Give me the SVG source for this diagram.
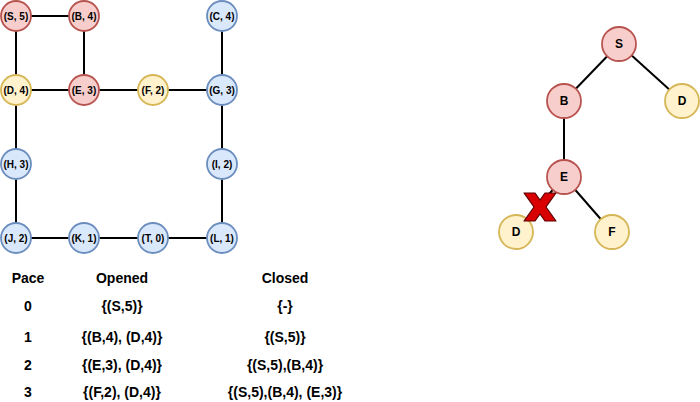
<svg xmlns="http://www.w3.org/2000/svg" width="700" height="402" viewBox="0 0 700 402">
<style>
.n circle{stroke-width:1.8}
.red circle{fill:#f8cecc;stroke:#b85450}
.yel circle{fill:#fff2cc;stroke:#d6b656}
.blu circle{fill:#dae8fc;stroke:#6c8ebf}
.n text{font-family:"Liberation Sans",Arial,sans-serif;font-weight:bold;font-size:10px;fill:#000;text-anchor:middle;dominant-baseline:central}
.t text{font-size:12px}
#edges line{stroke:#000;stroke-width:2}
.tbl text{font-family:"Liberation Sans",Arial,sans-serif;font-weight:bold;font-size:14px;fill:#000;text-anchor:middle;dominant-baseline:central}
</style>
<rect width="700" height="402" fill="#fff"/>
<g id="edges">
<line x1="16" y1="16" x2="84" y2="16"/>
<line x1="16" y1="16" x2="16" y2="90"/>
<line x1="84" y1="16" x2="84" y2="90"/>
<line x1="16" y1="90" x2="222" y2="90"/>
<line x1="222" y1="16" x2="222" y2="238"/>
<line x1="16" y1="90" x2="16" y2="238"/>
<line x1="16" y1="238" x2="222" y2="238"/>
<line x1="619" y1="44" x2="564" y2="101"/>
<line x1="619" y1="44" x2="682" y2="101"/>
<line x1="564" y1="101" x2="564" y2="177"/>
<line x1="564" y1="177" x2="516" y2="232"/>
<line x1="564" y1="177" x2="612" y2="232"/>
</g>
<g id="nS" class="n red"><circle cx="16" cy="16" r="15"/><text x="16" y="16">(S, 5)</text></g>
<g id="nB" class="n red"><circle cx="84" cy="16" r="15"/><text x="84" y="16">(B, 4)</text></g>
<g id="nC" class="n blu"><circle cx="222" cy="16" r="15"/><text x="222" y="16">(C, 4)</text></g>
<g id="nD" class="n yel"><circle cx="16" cy="90" r="15"/><text x="16" y="90">(D, 4)</text></g>
<g id="nE" class="n red"><circle cx="84" cy="90" r="15"/><text x="84" y="90">(E, 3)</text></g>
<g id="nF" class="n yel"><circle cx="153" cy="90" r="15"/><text x="153" y="90">(F, 2)</text></g>
<g id="nG" class="n blu"><circle cx="222" cy="90" r="15"/><text x="222" y="90">(G, 3)</text></g>
<g id="nH" class="n blu"><circle cx="16" cy="164" r="15"/><text x="16" y="164">(H, 3)</text></g>
<g id="nI" class="n blu"><circle cx="222" cy="164" r="15"/><text x="222" y="164">(I, 2)</text></g>
<g id="nJ" class="n blu"><circle cx="16" cy="238" r="15"/><text x="16" y="238">(J, 2)</text></g>
<g id="nK" class="n blu"><circle cx="84" cy="238" r="15"/><text x="84" y="238">(K, 1)</text></g>
<g id="nT" class="n blu"><circle cx="153" cy="238" r="15"/><text x="153" y="238">(T, 0)</text></g>
<g id="nL" class="n blu"><circle cx="222" cy="238" r="15"/><text x="222" y="238">(L, 1)</text></g>
<g id="tS" class="n t red"><circle cx="619" cy="44" r="17"/><text x="619" y="44">S</text></g>
<g id="tB" class="n t red"><circle cx="564" cy="101" r="17"/><text x="564" y="101">B</text></g>
<g id="tD1" class="n t yel"><circle cx="682" cy="101" r="17"/><text x="682" y="101">D</text></g>
<g id="tE" class="n t red"><circle cx="564" cy="177" r="17"/><text x="564" y="177">E</text></g>
<g id="tD2" class="n t yel"><circle cx="516" cy="232" r="17"/><text x="516" y="232">D</text></g>
<g id="tF" class="n t yel"><circle cx="612" cy="232" r="17"/><text x="612" y="232">F</text></g>
<g id="cross"><path d="M524,193 L535,193 L540,200 L545,193 L556,193 L546,207 L556,221 L545,221 L540,214 L535,221 L524,221 L534,207 Z" fill="#d80000" stroke="#5a0000" stroke-width="1.2" stroke-linejoin="round"/></g>
<g class="tbl">
<text x="28" y="278">Pace</text><text x="122" y="278">Opened</text><text x="285" y="278">Closed</text>
<text x="28" y="306">0</text><text x="122" y="306">{(S,5)}</text><text x="285" y="306">{-}</text>
<text x="28" y="337">1</text><text x="122" y="337">{(B,4), (D,4)}</text><text x="285" y="337">{(S,5)}</text>
<text x="28" y="365">2</text><text x="122" y="365">{(E,3), (D,4)}</text><text x="285" y="365">{(S,5),(B,4)}</text>
<text x="28" y="392">3</text><text x="122" y="392">{(F,2), (D,4)}</text><text x="285" y="392">{(S,5),(B,4), (E,3)}</text>
</g>
</svg>
